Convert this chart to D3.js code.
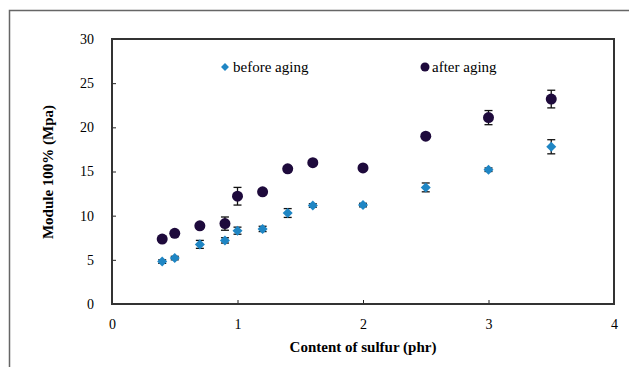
<!DOCTYPE html>
<html>
<head>
<meta charset="utf-8">
<script src="https://cdn.jsdelivr.net/npm/d3@7"></script>
<style>
  body { margin: 0; background: #fff; }
  svg text { font-family: "Liberation Serif", "Times New Roman", serif; fill: #000; }
</style>
</head>
<body>
<svg width="629" height="367"></svg>
<script>
// sulfur content (phr)
let sulfur = [0.4, 0.5, 0.7, 0.9, 1.0, 1.2, 1.4, 1.6, 2.0, 2.5, 3.0, 3.5];
let beforeAging = [4.8, 5.2, 6.75, 7.2, 8.3, 8.5, 10.3, 11.15, 11.2, 13.2, 15.2, 17.8];
let beforeErr = [0.2, 0.2, 0.45, 0.3, 0.4, 0.3, 0.5, 0.2, 0.2, 0.5, 0.2, 0.8];
let afterAging = [7.35, 8.0, 8.85, 9.1, 12.2, 12.7, 15.3, 16.0, 15.4, 19.0, 21.1, 23.2];
let afterErr = [0.3, 0.3, 0.3, 0.75, 1.0, 0.3, 0.3, 0.2, 0.2, 0.3, 0.8, 1.0];
let xTicks = [0, 1, 2, 3, 4];
let yTicks = [0, 5, 10, 15, 20, 25, 30];

let serif = "Liberation Serif, Times New Roman, serif";
let svg = d3.select("svg");

// outer frame of the figure
svg.append("rect")
    .attr("x", 9.5).attr("y", 10.5)
    .attr("width", 640).attr("height", 380)
    .attr("fill", "none").attr("stroke", "#666").attr("stroke-width", 1.5);

let x = d3.scaleLinear().domain([0, 4]).range([112, 614]);
let y = d3.scaleLinear().domain([0, 30]).range([304, 39]);

let g = svg.append("g");

// ticks point inward, as in the original
let yAxis = g.append("g")
    .attr("transform", `translate(${x(0)},0)`)
    .call(d3.axisLeft(y).tickValues(yTicks).tickFormat(d3.format("d"))
        .tickSizeInner(-4).tickSizeOuter(0).tickPadding(18));
yAxis.select(".domain").remove();
yAxis.selectAll("line").attr("stroke", "#222");
yAxis.selectAll("text").style("font-family", serif).style("font-size", "14px");

let xAxis = g.append("g")
    .attr("transform", `translate(0,${y(0)})`)
    .call(d3.axisBottom(x).tickValues(xTicks).tickFormat(d3.format("d"))
        .tickSizeInner(-4).tickSizeOuter(0).tickPadding(15));
xAxis.select(".domain").remove();
xAxis.selectAll("line").attr("stroke", "#222");
xAxis.selectAll("text").style("font-family", serif).style("font-size", "14px");

// plot frame
g.append("rect")
    .attr("x", x(0)).attr("y", y(30))
    .attr("width", x(4) - x(0)).attr("height", y(0) - y(30))
    .attr("fill", "none").attr("stroke", "#333").attr("stroke-width", 2);

let beforeColor = "#1f86c4";
let afterColor = "#1e0a3c";

function drawErrors(vals, errs) {
    let eg = g.append("g").attr("stroke", "#111").attr("stroke-width", 1.3);
    sulfur.forEach((s, i) => {
        let cx = x(s), top = y(vals[i] + errs[i]), bot = y(vals[i] - errs[i]);
        eg.append("line").attr("x1", cx).attr("x2", cx).attr("y1", top).attr("y2", bot);
        eg.append("line").attr("x1", cx - 4).attr("x2", cx + 4).attr("y1", top).attr("y2", top);
        eg.append("line").attr("x1", cx - 4).attr("x2", cx + 4).attr("y1", bot).attr("y2", bot);
    });
}

drawErrors(beforeAging, beforeErr);
drawErrors(afterAging, afterErr);

let diamond = d3.symbol().type(d3.symbolDiamond2).size(64);

g.append("g").selectAll("path")
    .data(sulfur)
    .enter().append("path")
    .attr("d", diamond)
    .attr("transform", (d, i) => `translate(${x(d)},${y(beforeAging[i])})`)
    .attr("fill", beforeColor);

g.append("g").selectAll("circle")
    .data(sulfur)
    .enter().append("circle")
    .attr("cx", d => x(d))
    .attr("cy", (d, i) => y(afterAging[i]))
    .attr("r", 5.5)
    .attr("fill", afterColor);

// legend
let leg = svg.append("g");
leg.append("path").attr("d", d3.symbol().type(d3.symbolDiamond2).size(40))
    .attr("transform", "translate(225,67)").attr("fill", beforeColor);
leg.append("text").attr("x", 233).attr("y", 72).style("font-size", "15px").text("before aging");
leg.append("circle").attr("cx", 425).attr("cy", 67).attr("r", 4.5).attr("fill", afterColor);
leg.append("text").attr("x", 432).attr("y", 72).style("font-size", "15px").text("after aging");

// axis titles
svg.append("text")
    .attr("x", 363).attr("y", 352)
    .attr("text-anchor", "middle")
    .style("font-size", "15px").style("font-weight", "bold")
    .text("Content of sulfur (phr)");

svg.append("text")
    .attr("transform", "translate(53,172) rotate(-90)")
    .attr("text-anchor", "middle")
    .style("font-size", "15px").style("font-weight", "bold")
    .text("Module 100% (Mpa)");
</script>
</body>
</html>
